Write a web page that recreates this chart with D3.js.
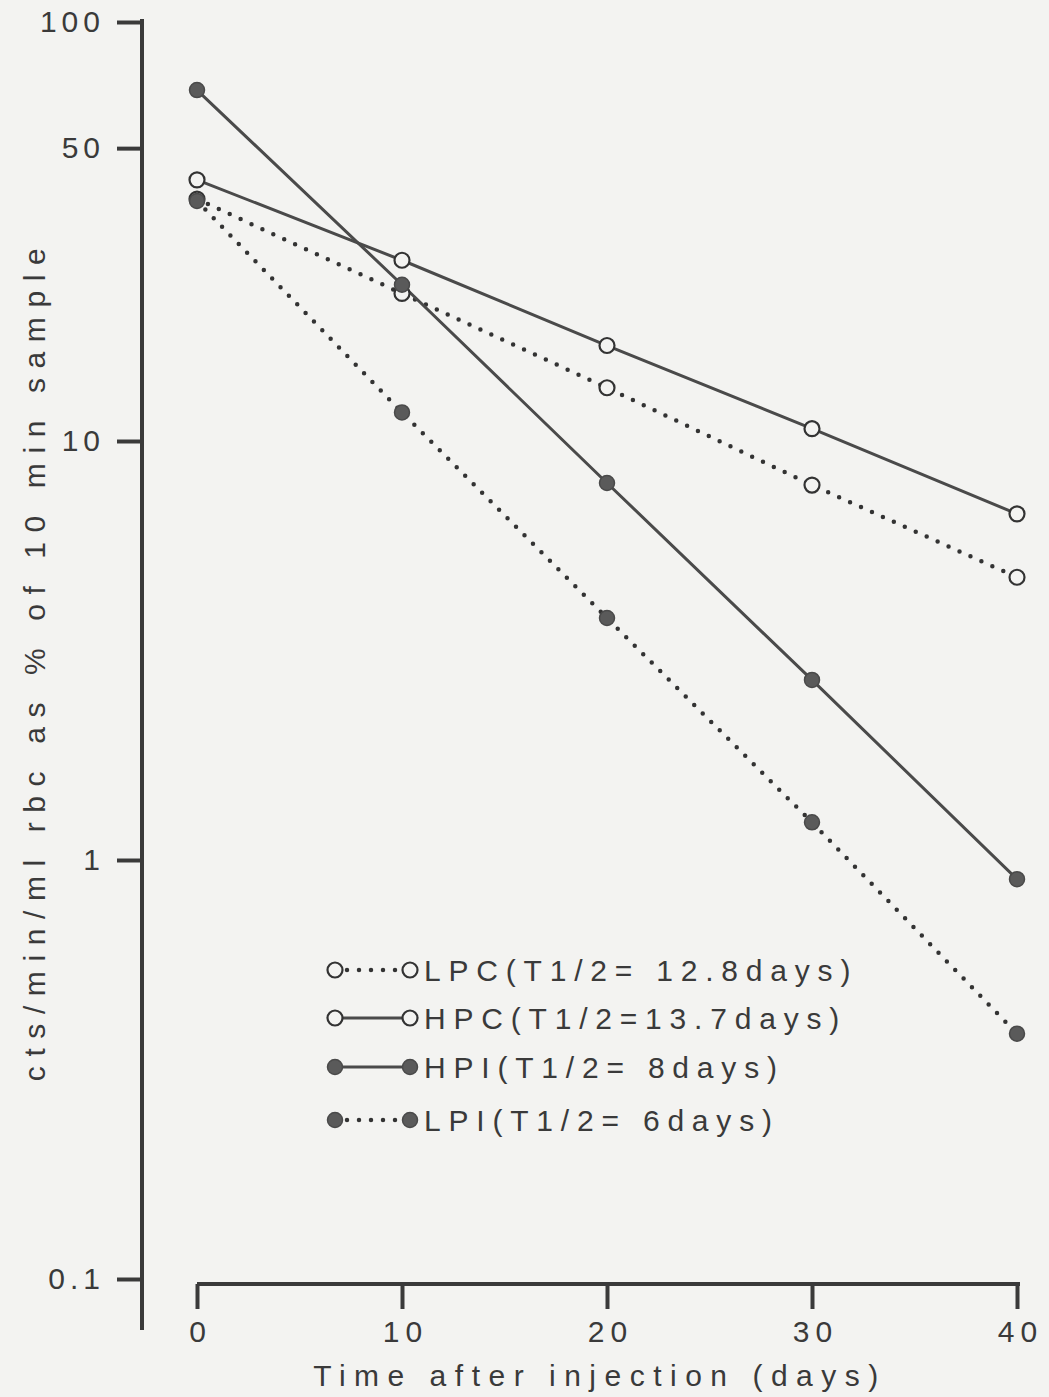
<!DOCTYPE html>
<html>
<head>
<meta charset="utf-8">
<script src="https://cdn.jsdelivr.net/npm/d3@7"></script>
<style>
  html, body { margin: 0; padding: 0; background: #f3f3f1; }
  svg { display: block; }
  text { font-family: "Liberation Sans", "DejaVu Sans", sans-serif; fill: #3a3a3a; }
</style>
</head>
<body>
<svg id="chart" width="1049" height="1397"></svg>
<script>
// Days after injection at which samples were counted
const days = [0, 10, 20, 30, 40];

// Activity as % of the 10 min sample, per group
const lpc = [37.8, 22.5, 13.4, 7.85, 4.73];
const hpc = [42.0, 27.0, 16.9, 10.7, 6.7];
const hpi = [68.8, 23.6, 7.94, 2.69, 0.90];
const lpi = [37.4, 11.7, 3.78, 1.23, 0.385];

const yTicks = [0.1, 1, 10, 50, 100];
const yTickLabels = ["0.1", "1", "10", "50", "100"];
const xTicks = [0, 10, 20, 30, 40];

const seriesLabels = [
  "LPC(T1/2= 12.8days)",
  "HPC(T1/2=13.7days)",
  "HPI(T1/2= 8days)",
  "LPI(T1/2= 6days)"
];

const series = [
  { name: "LPC", values: lpc, filled: false, dotted: true },
  { name: "HPC", values: hpc, filled: false, dotted: false },
  { name: "HPI", values: hpi, filled: true, dotted: false },
  { name: "LPI", values: lpi, filled: true, dotted: true }
];

const svg = d3.select("#chart");
const ink = "#3a3a3a";

const x = d3.scaleLinear().domain([0, 40]).range([197, 1017]);
const y = d3.scaleLog().domain([0.1, 100]).range([1279, 22]);

// Y axis
const yAxis = d3.axisLeft(y)
  .tickValues(yTicks)
  .tickFormat((d, i) => yTickLabels[i])
  .tickSize(25)
  .tickSizeOuter(0)
  .tickPadding(12);

const gy = svg.append("g").attr("transform", "translate(142,0)").call(yAxis);
gy.select(".domain").remove();
gy.selectAll(".tick line").attr("stroke", ink).attr("stroke-width", 4);
gy.selectAll(".tick text")
  .style("font-size", "30px")
  .style("letter-spacing", "5px")
  .attr("fill", "#444");
// vertical axis line, running a little past the lowest tick
gy.append("line")
  .attr("x1", 0).attr("x2", 0)
  .attr("y1", y(100) - 3).attr("y2", y(0.1) + 51)
  .attr("stroke", ink).attr("stroke-width", 4);

// X axis
const xAxis = d3.axisBottom(x)
  .tickValues(xTicks)
  .tickSize(25)
  .tickSizeOuter(0)
  .tickPadding(12);

const gx = svg.append("g").attr("transform", "translate(0,1284)").call(xAxis);
gx.select(".domain").attr("stroke", ink).attr("stroke-width", 4)
  .attr("d", `M${x(0)},0H${x(40) + 3}`);
gx.selectAll(".tick line").attr("stroke", ink).attr("stroke-width", 4);
gx.selectAll(".tick text")
  .style("font-size", "30px")
  .style("letter-spacing", "6px")
  .attr("dx", "3px")
  .attr("fill", "#444");

// Axis titles
svg.append("text")
  .attr("x", 600).attr("y", 1386)
  .attr("text-anchor", "middle")
  .style("font-size", "30px")
  .style("letter-spacing", "8.5px")
  .text("Time after injection (days)");

svg.append("text")
  .attr("transform", "translate(45,660) rotate(-90)")
  .attr("text-anchor", "middle")
  .style("font-size", "30px")
  .style("letter-spacing", "9.6px")
  .attr("xml:space", "preserve")
  .text("cts/min/ml rbc as % of 10 min sample");

// Lines
const line = d3.line()
  .x((d, i) => x(days[i]))
  .y(d => y(d));

function styleLine(sel, dotted) {
  sel.attr("fill", "none")
    .attr("stroke", dotted ? "#333" : "#4a4a4a")
    .attr("stroke-width", dotted ? 4.5 : 3)
    .attr("stroke-linecap", "round")
    .attr("stroke-dasharray", dotted ? "0 12" : null);
}

series.forEach(s => {
  svg.append("path").datum(s.values).attr("d", line).call(styleLine, s.dotted);
});

function styleMarker(sel, filled) {
  sel.attr("r", 7.5)
    .attr("fill", filled ? "#5a5a5a" : "#f3f3f1")
    .attr("stroke", filled ? "#4a4a4a" : "#333")
    .attr("stroke-width", filled ? 1.5 : 2.2);
}

series.forEach(s => {
  svg.append("g").selectAll("circle")
    .data(s.values)
    .join("circle")
    .attr("cx", (d, i) => x(days[i]))
    .attr("cy", d => y(d))
    .call(styleMarker, s.filled);
});

// Legend
const legendRows = [970, 1018, 1067, 1120];
const lg = svg.append("g");
series.forEach((s, i) => {
  const cy = legendRows[i];
  lg.append("path").attr("d", `M335,${cy}H410`).call(styleLine, s.dotted);
  lg.append("circle").attr("cx", 335).attr("cy", cy).call(styleMarker, s.filled);
  lg.append("circle").attr("cx", 410).attr("cy", cy).call(styleMarker, s.filled);
  lg.append("text")
    .attr("x", 424).attr("y", cy + 11)
    .attr("xml:space", "preserve")
    .style("font-size", "30px")
    .style("letter-spacing", "7.8px")
    .text(seriesLabels[i]);
});
</script>
</body>
</html>
